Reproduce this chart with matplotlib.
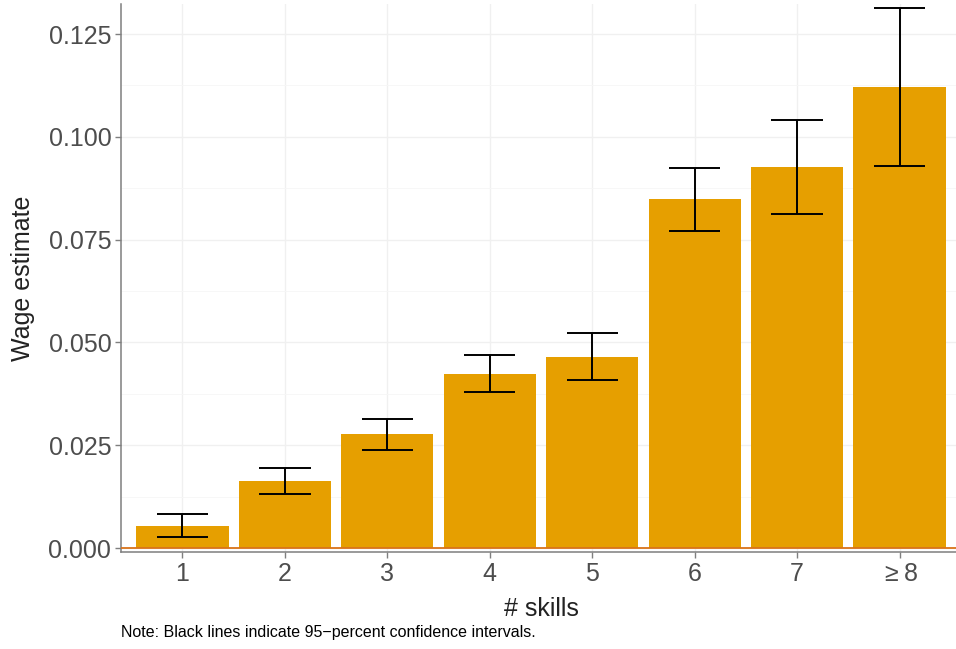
import numpy as np
import matplotlib
matplotlib.use("Agg")
import matplotlib.pyplot as plt

# wage premium by number of skills, with 95% CI bounds
skills = ["1", "2", "3", "4", "5", "6", "7", r"$\geq$8"]
estimate = [0.0054, 0.0163, 0.0277, 0.0423, 0.0464, 0.0849, 0.0927, 0.1121]
ci_low = [0.0026, 0.0131, 0.0238, 0.0379, 0.0409, 0.0771, 0.0813, 0.0929]
ci_high = [0.0083, 0.0195, 0.0314, 0.0469, 0.0523, 0.0924, 0.1042, 0.1313]
yticks = [0.000, 0.025, 0.050, 0.075, 0.100, 0.125]

plt.rcParams["font.family"] = ["Liberation Sans", "DejaVu Sans"]
plt.rcParams["mathtext.fontset"] = "custom"
plt.rcParams["mathtext.rm"] = "Liberation Sans"

fig = plt.figure(figsize=(9.56, 6.49), dpi=100)
ax = fig.add_axes([121 / 956, 1 - 552 / 649, (961 - 121) / 956, (552 - 4) / 649])

x = np.arange(1, len(skills) + 1)
ax.bar(x, estimate, width=0.9, color="#E69F00", zorder=2)
ax.axhline(0, color="#D9731A", lw=1.3, zorder=3)

# error bars drawn as vlines + caps
ax.vlines(x, ci_low, ci_high, color="black", lw=1.4, zorder=4)
ax.hlines(ci_low, x - 0.25, x + 0.25, color="black", lw=1.4, zorder=4)
ax.hlines(ci_high, x - 0.25, x + 0.25, color="black", lw=1.4, zorder=4)

ax.set_xlim(0.4, 8.6)
ax.set_ylim(-0.00095, 0.1323)
ax.set_xticks(x)
ax.set_xticklabels(skills)
ax.set_yticks(yticks)
ax.set_yticklabels([f"{v:.3f}" for v in yticks])
ax.set_yticks(np.arange(0.0125, 0.13, 0.025), minor=True)
ax.tick_params(axis="y", which="minor", length=0)

ax.grid(True, which="major", color="#F0F0F0", lw=1.0, zorder=0)
ax.grid(True, which="minor", axis="y", color="#F6F6F6", lw=0.6, zorder=0)
ax.set_axisbelow(True)

for side in ("top", "right"):
    ax.spines[side].set_visible(False)
for side in ("left", "bottom"):
    ax.spines[side].set_color("#7F7F7F")
    ax.spines[side].set_linewidth(1.1)

ax.tick_params(axis="both", which="major", labelsize=18, colors="#7F7F7F",
               labelcolor="#4D4D4D", length=4, width=1.0, pad=3)

ax.set_xlabel("# skills", fontsize=18, color="#222222", labelpad=8)
ax.set_ylabel("Wage estimate", fontsize=18, color="#222222", labelpad=10)

fig.text(121 / 956, 1 - 633 / 649, "Note: Black lines indicate 95\u2212percent confidence intervals.",
         fontsize=11.5, color="black", va="center", ha="left")

fig.savefig("out.png", dpi=100)
